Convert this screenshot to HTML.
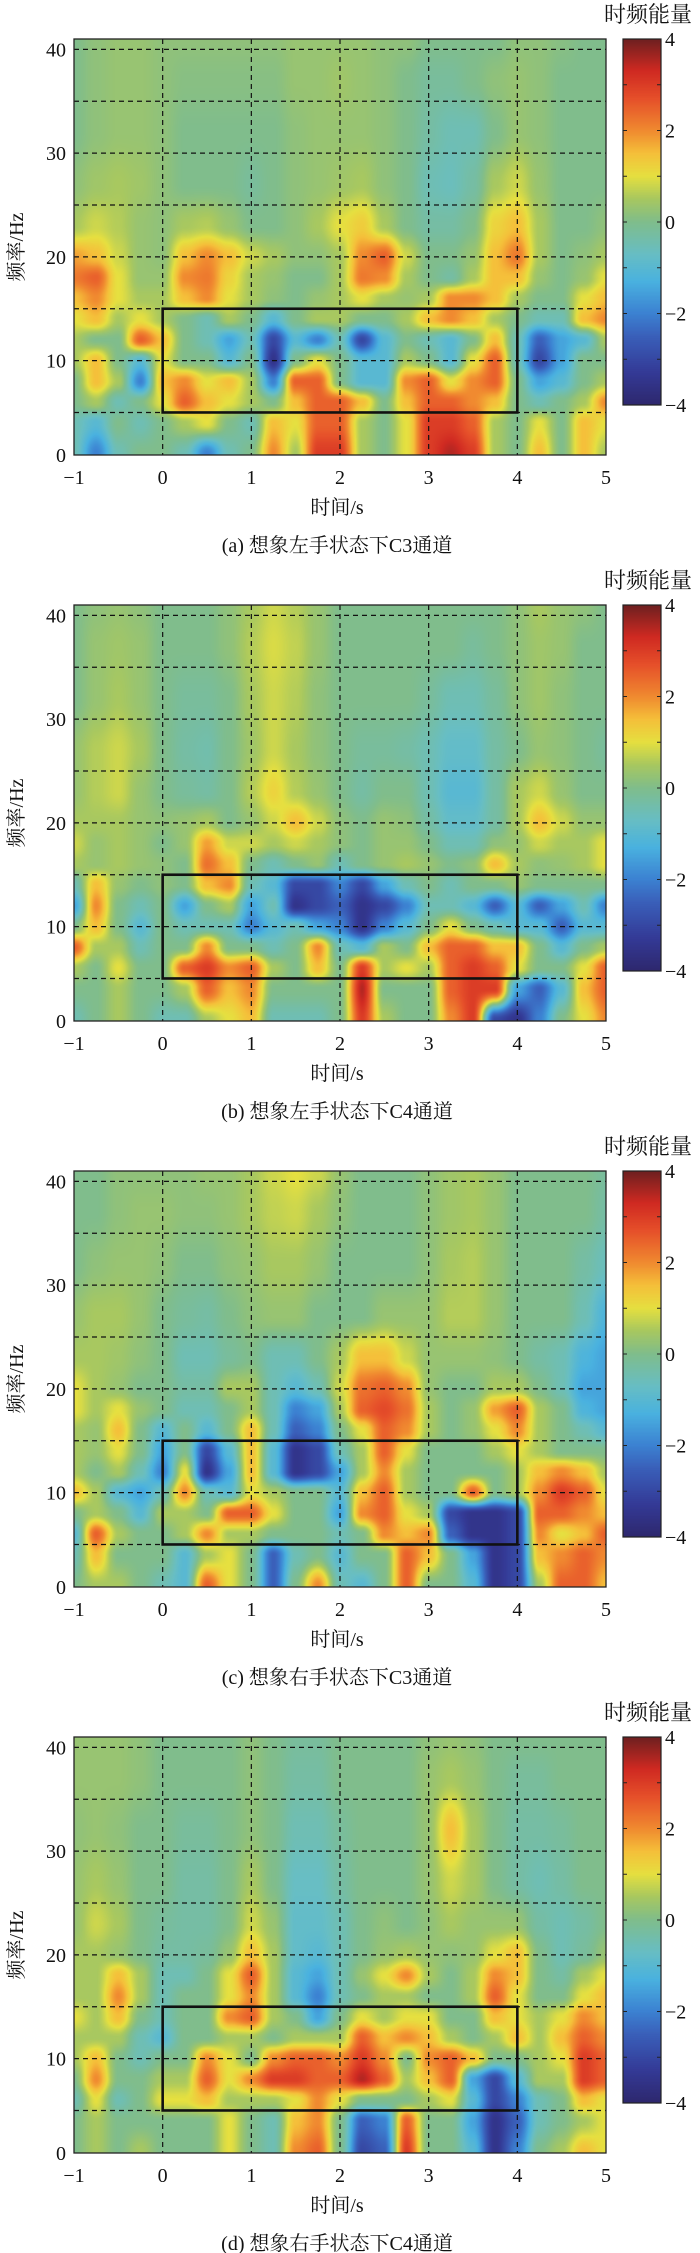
<!DOCTYPE html>
<html><head><meta charset="utf-8">
<style>
html,body{margin:0;padding:0;background:#fff;}
body{width:700px;height:2253px;position:relative;overflow:hidden;font-family:"Liberation Serif","Noto Serif CJK SC",serif;}
canvas{position:absolute;}
svg{position:absolute;left:0;top:0;}
</style></head>
<body>
<svg id="svg" width="700" height="2253" xmlns="http://www.w3.org/2000/svg"></svg>
<script>
// ---- data ----
const times = [-1,-0.75,-0.5,-0.25,0,0.25,0.5,0.75,1,1.25,1.5,1.75,2,2.25,2.5,2.75,3,3.25,3.5,3.75,4,4.25,4.5,4.75,5];
const freqs = [41,37,32,27,23,20,18,16,14,12,10,8,6,4,1];
const xTicks = [-1,0,1,2,3,4,5];
const yTicks = [0,10,20,30,40];
const hGrid = [40,35,30,25,20,15,10,5];
const cbTicks = [4,2,0,-2,-4];
const captions = ["(a) 想象左手状态下C3通道","(b) 想象左手状态下C4通道","(c) 想象右手状态下C3通道","(d) 想象右手状态下C4通道"];
const boxT = [0,4];
const boxF = [5,15];

const valuesA = [
[0,0.2,0.3,0.3,0.2,0.2,0.2,0.2,0.2,0.2,0.3,0.3,0.3,0.3,0.2,0.2,0,0,0,0,0.2,0.2,0.1,0,0],
[0,0.2,0.3,0.3,0.2,0.1,0.1,0.1,0.1,0.1,0.3,0.3,0.4,0.3,0.2,0,-0.2,-0.2,0,0.2,0.3,0.2,0,0,0],
[0,0.2,0.3,0.3,0.2,0,0,0,0,0,0.2,0.3,0.3,0.3,0.2,0,-0.3,-0.5,-0.5,0,0.3,0.2,0,0,0],
[0.2,0.4,0.5,0.4,0.2,0,0,0,-0.2,0,0.2,0.3,0.4,0.5,0.2,0,-0.5,-0.6,-0.3,0.5,0.8,0.3,0,0,0],
[0.5,0.8,0.6,0.3,0.2,0.5,0.6,0.3,0,0,0.2,0.5,1,1.3,0.5,0,-0.3,-0.3,0,1.2,1.5,0.5,0,0,0.2],
[1.8,1.5,0.8,0.3,0.2,1.5,2,1.5,0.8,0.5,0.2,0.2,0.5,2,2.5,0.8,0,0,0.3,1.5,2.2,0.5,0,0.2,0.5],
[2.2,2.5,1,0.3,0.3,2,2.2,1.2,0.5,0.3,0,0,0.5,2.2,2,0.5,0,-0.3,0.5,1.5,1.5,0.3,0,0.3,1],
[1.5,2,1,0.5,0.5,1.5,2,1,0.5,0.2,0,0.3,0.5,1,0.5,0.3,0.5,2,2,1.5,0.5,0,0,1,1.5],
[1,1.5,0.5,1,0.5,0,-0.5,0.5,0,-1,0,0.5,0.5,0,0,0.5,1.5,2,1.5,0.5,0,-0.5,-0.5,1.5,2],
[0.5,0,0,2.5,1.5,0,-0.5,-1.5,-0.5,-3,-1,-2,-0.5,-3,-1,0,-0.5,-1,0,1.5,-0.5,-2.5,-1.5,-1,0.5],
[0.5,1.5,0,-1,1,0,0,-1,0,-3.5,0,1,0,-1,-1,0.5,0,-1,1,2.5,-0.5,-3,-1.5,0,0],
[0,1.5,0.5,-2,1.5,2,1,1.5,0.5,-2,2.5,2.5,0,-1,-1,2,2.5,1,2,2.5,0,-1.5,-1,0,0.5],
[0,0.5,-0.5,0,1,2.5,1.5,1,0.5,0,1.5,2.5,2.5,1.5,0,1.5,2.5,2.5,2,1.5,0,-0.5,0,0.5,2],
[-0.5,-1,0,-0.5,0,0.5,1,0,-0.5,1.5,1,2.5,2.5,0.5,0,1,3,3,2.5,0.5,0,1,0,1.5,1],
[-0.5,-2,-0.5,0,0,-0.5,-2,-0.5,0,2,0.5,3,3,0.5,0,1,3,3.5,3,0.5,0,1.5,0,1.5,0.5]
];
const valuesB = [
[0,0.2,0.3,0.2,0,0,0,0.2,0.5,0.8,0.6,0.3,0,0,0,0,0,0,0,0,0.2,0.5,0.3,0.2,0],
[0,0.3,0.4,0.3,0,0,0,0.2,0.6,0.9,0.7,0.3,0,0,0,0,0,0,-0.2,0,0.2,0.4,0.3,0,0],
[0,0.3,0.5,0.3,0,-0.2,-0.2,0,0.5,0.8,0.6,0.2,0,0,0,0,-0.2,-0.5,-0.5,-0.2,0.2,0.4,0.2,0,0],
[0.3,0.6,0.8,0.5,0,-0.3,-0.4,0,0.4,0.8,0.5,0.2,0,-0.2,-0.2,-0.3,-0.5,-0.8,-0.8,-0.3,0,0.3,0.2,0,-0.2],
[0.3,0.6,0.8,0.3,0,-0.2,-0.3,0,0.6,1.2,0.6,0.3,0,-0.3,0,0,-0.5,-1,-1,-0.3,0.5,0.8,0.3,0,0],
[0.5,0.5,0.5,0.3,0.2,0.3,0.5,0,0.3,0.8,1.5,0.8,0.2,0,0.3,0.2,-0.3,-0.8,-0.8,-0.3,0.5,1.5,0.8,0.3,0.3],
[0.8,0.3,0.5,0.3,0,0.3,1.8,0.8,0.8,0.5,0.8,0.5,0.2,0,0.3,0.3,0,-0.5,-0.5,0.2,0.3,0.8,0.5,0.5,1],
[0.5,0.3,0.5,0.3,0.2,0,2.3,1.5,0,-0.5,0,0.3,-0.5,0,0.3,0.5,0.3,0,0.2,1.5,0.5,0.2,0.3,0.5,1],
[-0.5,1.5,0.3,0,0.2,0,1.5,2,-0.5,-1,-3,-3,-2,-3,-1.5,-0.5,0,-0.5,0,0,0.3,0,0,0,0],
[-1.5,2,0,-0.5,0,-1.5,0,0.5,-1.5,-0.5,-3.5,-3,-2.5,-3.5,-3,-2,-0.5,-0.5,-1,-2.5,-1,-2.5,-1.5,-0.5,-2],
[0,1.5,0,-1,0,-0.5,-0.5,-0.5,-2,-1,-0.5,-1.5,-2,-3.5,-2,-1,0,1,0,-0.5,-1,-1,-2.5,-1,-1],
[2.5,0.5,0.5,-0.5,0,0,2,0,0,-0.5,0,2,-0.5,-1,0.5,0,1.5,2.5,2.5,1.5,1.5,0,-1,0,0.5],
[0.5,0,1,0,0,2.5,3,2,2.5,0.5,0,1.5,0,3,0.5,1,0.5,2.5,3,2.5,1,0,0,1,2.5],
[0,0,0.5,0,0,0.5,2.5,1.5,2,0,0,0,0,3.5,0,0,0,2.5,3,3,-1.5,-2.5,-1,1.5,2.5],
[-0.5,0,0.5,0,-0.5,-0.5,0.5,1,1.5,-0.5,-0.5,-0.5,0,3,0.5,0,0,2,3,-3,-3.5,-2,0,1,2]
];
const valuesC = [
[0,0,0.2,0.2,0.2,0.2,0.3,0.3,0.5,0.8,1,0.8,0.3,0,0,0,0.2,0.4,0.5,0.3,0,0,0,0,-0.2],
[0,0,0.2,0.3,0.3,0.2,0.2,0.3,0.5,0.7,0.8,0.5,0.2,0,0,0,0.2,0.4,0.5,0.3,0,0,0,0,-0.3],
[0,0.2,0.3,0.3,0.2,0,0,0.2,0.3,0.5,0.5,0.3,0,0,0,0,0.2,0.5,0.6,0.3,0,0,0,-0.3,-0.6],
[0.3,0.5,0.5,0.3,0,-0.2,-0.3,0,0.2,0.3,0.3,0,0,0,0.3,0.3,0.3,0.6,0.6,0.3,0,0,0,-0.5,-1.2],
[0.5,0.5,0.4,0.2,0,-0.5,-0.5,-0.2,0,-0.5,-0.5,0,0.5,1.5,1.5,0.8,0.3,0.3,0.3,0.2,0,-0.3,-0.5,-1.2,-1.5],
[1,0.5,0.3,0,0,-0.3,-0.3,0.5,0.5,-0.5,-1,-0.5,0.8,2.3,2.5,2,0.3,0,0,0.5,0.5,0,-0.5,-1.5,-1.5],
[1,0.5,1,0.3,0,-0.5,-0.5,0,0.5,-0.5,-2,-1.5,0.5,2.5,2.8,2.3,0.5,0,0.3,1.8,2.5,0.5,0,-1.2,-1.5],
[0.5,0.3,1.5,0,-1,0,-1,0,1.5,-0.5,-2.5,-2,0,1,2.5,2,0.5,0,0.3,1,2,0.5,0,-0.5,-1],
[0.5,0.3,1,0,-1.5,0,-3,-1,1.5,-1,-3.5,-3,-0.5,0.5,2.5,1,0,0,0,0.5,1,0.5,0,0,0],
[0.5,0,0.5,-0.5,-2,1,-3.5,-1.5,1.5,-1,-3.5,-3,-1.5,0.5,2,0.5,0,0,0,0,0.5,1.5,2,1.5,0.5],
[1.5,0.5,-1,-1.5,-0.5,2,-0.5,-1,1,0.5,0,0,-1,1.5,2.5,0.5,0,0,2.5,0,0.5,2,3,2.5,1],
[0,0.5,0,-1,0.5,0.5,0,2.5,2.5,1,0,0,-1.5,2,2.5,1,0.5,-3,-3.5,-3.5,-3,2.5,2.5,2,1.5],
[-1,2.5,0.5,0,0,0.5,2,0.5,0.5,0,0,0,-0.5,0,2,1.5,2,-2.5,-3.5,-3.5,-3,2,1,1.5,2.5],
[-0.5,1.5,0,0,0,-1,0.5,1,0,-2.5,-0.5,0,-1,0,0,2.5,1.5,0,-1.5,-3.5,-3,1.5,2,2.5,2],
[0,0.5,0.5,0,-0.5,-1,2.5,1,0,-2.5,0,2,-0.5,-1,0,2.5,0,0,-1,-3.5,-3,0.5,2.5,2.5,1.5]
];
const valuesD = [
[0.3,0.3,0.3,0.2,0,0,0,0,0.2,0,-0.2,-0.2,0,0,0,0,0.2,0.3,0.2,0,0,0,0,0,0],
[0.3,0.3,0.3,0.2,0,0,0,0,0.2,0,-0.3,-0.3,0,0,0,0,0.3,0.5,0.3,0,-0.2,-0.2,0,0,0],
[0.2,0.3,0.2,0,0,-0.2,-0.2,0,0.2,0,-0.5,-0.5,-0.2,0,0,0,0.3,1.5,0.5,0,-0.3,-0.3,-0.2,0,0],
[0.3,0.5,0.3,0,0,-0.3,-0.3,0,0.5,0,-0.7,-0.7,-0.3,0,0,0,0.3,0.8,0.5,0,-0.3,-0.5,-0.3,0,0],
[0.3,0.8,0.5,0,-0.2,-0.3,-0.3,0,0.8,0.3,-0.8,-0.8,-0.5,0,0.2,0,0.2,0.5,0.3,0.3,0.3,-0.3,-0.5,-0.3,0],
[0.5,0.5,0.3,0,-0.3,-0.3,-0.2,0.3,1.5,0.5,-0.8,-1,-0.5,0,0.3,0.5,0.3,0.2,0.3,1,1.5,0,-0.5,-0.2,0.3],
[0.5,0.5,1.5,0.5,-0.5,-0.5,0,1,2.5,0.5,-1,-1.5,-0.5,0.3,1,2,0.5,0,0.5,2,1.5,0,-0.3,0.5,1],
[0.5,0.5,2,0.5,-0.5,0,0,1,2,0.5,-1,-2,-0.5,0,0.5,0.5,0,0,0.5,2.5,1,0,0,1,1.5],
[1,0.5,1.5,0,-0.5,0,0,2,2.5,0.5,0,-1.5,0,1,0.5,1,1,0,0,1.5,1,0.5,1,2,1.5],
[0.5,0.5,0.5,-0.5,-1,0,0,0.5,0.5,0,0.5,0.5,0.5,2.5,1.5,2,1.5,0.5,0,0.5,1.5,0.5,1.5,2.5,2],
[0.5,1.5,0,-0.5,0,0,2,1,0,2,2.5,2.5,2,3,2,0,2,2.5,1.5,0,0,0.5,1,3,2.5],
[0,2,0,0,0.5,0.5,2.5,1,2,3,3,2.5,2.5,3.5,2.5,0.5,1.5,2.5,-1.5,-3,-1,0.5,0.5,3,2.5],
[-0.5,1,-0.5,0,1,1,1.5,0.5,0.5,0.5,1,2,1,0,0,0,0.5,1,-1,-3,-2,-0.5,0,1.5,1],
[0,0.5,0,0,0,0,0,1,0,-0.5,1.5,2,0,-2.5,-2,2.5,0,0,-1.5,-3.5,-2.5,-0.5,0,0.5,1],
[0,0.5,0,0.5,0,0,0,1,0,-0.5,2,2.5,0,-3,-2.5,3,0,0,-1,-3.5,-2,0,0.5,1.5,1]
];
const panelValues = [valuesA, valuesB, valuesC, valuesD];

// colormap stops (value -> rgb)
const cmV = [-4,-3.3,-2.5,-2,-1.3,-0.7,0,0.5,1,1.5,2,2.7,3.3,4];
const cmC = [[46,40,110],[52,58,150],[58,96,186],[60,130,210],[74,178,224],[104,190,196],[128,189,140],[168,200,96],[230,224,64],[245,192,58],[240,138,48],[230,80,42],[208,42,34],[110,32,32]];
function cmap(v){
  if(v<=cmV[0]) return cmC[0];
  for(let i=1;i<cmV.length;i++){
    if(v<=cmV[i]){const a=(v-cmV[i-1])/(cmV[i]-cmV[i-1]);
      return cmC[i-1].map((c,k)=>c+(cmC[i][k]-c)*a);}
  }
  return cmC[cmC.length-1];
}

const NS="http://www.w3.org/2000/svg";
const svg=document.getElementById('svg');
function el(tag,attrs,parent){const e=document.createElementNS(NS,tag);for(const k in attrs)e.setAttribute(k,attrs[k]);(parent||svg).appendChild(e);return e;}

const X0=74,X1=606,PH=416,T0=-1,T1=5,F0=0.9,F1=41,DY=566;
const CBX=623,CBW=38,CBH=366;

function interp(vals,t,f){
  let ti=(t-times[0])/(times[1]-times[0]);ti=Math.max(0,Math.min(times.length-1.0001,ti));
  const i0=Math.floor(ti),a=ti-i0;
  let j0=0;
  for(let j=0;j<freqs.length-1;j++){if(f<=freqs[j]&&f>=freqs[j+1]){j0=j;break;} if(f<freqs[freqs.length-1])j0=freqs.length-2;}
  let b=(freqs[j0]-f)/(freqs[j0]-freqs[j0+1]);b=Math.max(0,Math.min(1,b));
  const v00=vals[j0][i0],v01=vals[j0][i0+1],v10=vals[j0+1][i0],v11=vals[j0+1][i0+1];
  const s=x=>x*x*(3-2*x);const as=s(a),bs=s(b);
  return (v00*(1-as)+v01*as)*(1-bs)+(v10*(1-as)+v11*as)*bs;
}

for(let p=0;p<4;p++){
  const Y0=39+p*DY, Y1=Y0+PH;
  const xs=t=>X0+(t-T0)/(T1-T0)*(X1-X0);
  const ys=f=>Y1-(f-F0)/(F1-F0)*PH;
  const vals=panelValues[p];
  const cv=document.createElement('canvas');
  cv.width=X1-X0;cv.height=PH;cv.style.left=X0+'px';cv.style.top=Y0+'px';
  
  
  document.body.insertBefore(cv,svg);
  const ctx=cv.getContext('2d');const img=ctx.createImageData(cv.width,cv.height);
  for(let y=0;y<cv.height;y++){const f=F1-(y+0.5)/PH*(F1-F0);
    for(let x=0;x<cv.width;x++){const t=T0+(x+0.5)/(X1-X0)*(T1-T0);
      const c=cmap(interp(vals,t,f));const o=(y*cv.width+x)*4;
      img.data[o]=c[0];img.data[o+1]=c[1];img.data[o+2]=c[2];img.data[o+3]=255;}}
  ctx.putImageData(img,0,0);

  const g=el('g',{});
  
  
  xTicks.slice(1,-1).forEach(t=>{const l=el('line',{x1:xs(t),x2:xs(t),y1:Y0,y2:Y1,stroke:'#111','stroke-width':1.2,'stroke-dasharray':'5,4'},g);
    });
  hGrid.forEach(f=>{const l=el('line',{x1:X0,x2:X1,y1:ys(f),y2:ys(f),stroke:'#111','stroke-width':1.2,'stroke-dasharray':'5,4'},g);
    });
  const fr=el('rect',{x:X0,y:Y0,width:X1-X0,height:PH,fill:'none',stroke:'#222','stroke-width':1.3},g);
  
  const bx=el('rect',{x:xs(boxT[0]),y:ys(boxF[1]),width:xs(boxT[1])-xs(boxT[0]),height:ys(boxF[0])-ys(boxF[1]),fill:'none',stroke:'#111','stroke-width':2.6},g);
  
  xTicks.forEach(t=>{
    const tx=el('text',{x:xs(t),y:Y1+29,'font-size':20,'text-anchor':'middle',fill:'#111'},g);
    tx.textContent=t<0?'\u2212'+(-t):String(t);
    
  });
  yTicks.forEach(f=>{
    const yy=f===0?Y1:ys(f);
    const tx=el('text',{x:66,y:yy+7,'font-size':20,'text-anchor':'end',fill:'#111'},g);
    tx.textContent=String(f);
    
  });
  const xt=el('text',{x:337,y:Y1+59,'font-size':20,'text-anchor':'middle',fill:'#111'},g);
  xt.textContent='时间/s';
  const yt=el('text',{x:0,y:0,'font-size':20,'text-anchor':'middle',fill:'#111',transform:`translate(23,${Y0+PH/2}) rotate(-90)`},g);
  yt.textContent='频率/Hz';
  const cap=el('text',{x:337,y:Y1+97,'font-size':20,'text-anchor':'middle',fill:'#111'},g);
  cap.textContent=captions[p];

  const cbTop=Y0, cbs=v=>cbTop+(4-v)/8*CBH;
  const cb=document.createElement('canvas');cb.width=CBW;cb.height=CBH;
  cb.style.left=CBX+'px';cb.style.top=cbTop+'px';
  
  
  document.body.insertBefore(cb,svg);
  const c2=cb.getContext('2d');
  for(let y=0;y<CBH;y++){const c=cmap(4-(y+0.5)/CBH*8);c2.fillStyle=`rgb(${c[0]|0},${c[1]|0},${c[2]|0})`;c2.fillRect(0,y,CBW,1);}
  const cf=el('rect',{x:CBX,y:cbTop,width:CBW,height:CBH,fill:'none',stroke:'#222','stroke-width':1.2},g);
  
  for(let v=-4;v<=4;v+=1){
    el('line',{x1:CBX,x2:CBX+4,y1:cbs(v),y2:cbs(v),stroke:'#222','stroke-width':1},g);
    el('line',{x1:CBX+CBW-4,x2:CBX+CBW,y1:cbs(v),y2:cbs(v),stroke:'#222','stroke-width':1},g);
  }
  cbTicks.forEach(v=>{
    const tx=el('text',{x:CBX+CBW+4,y:cbs(v)+7,'font-size':20,fill:'#111'},g);
    tx.textContent=v<0?'\u2212'+(-v):String(v);
    
  });
  const ct=el('text',{x:648,y:Y0-17,'font-size':22,'text-anchor':'middle',fill:'#111'},g);
  ct.textContent='时频能量';
}
</script>
</body></html>
